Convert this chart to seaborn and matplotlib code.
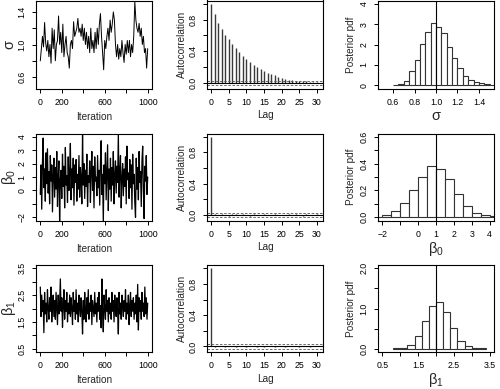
import numpy as np
import matplotlib.pyplot as plt
import seaborn as sns

# ---- data ----
# trace of sigma, every 10 iterations
sigma_trace = [0.80, 0.95, 1.10, 0.97, 1.27, 1.02, 0.92, 1.05, 0.85, 1.00,
               0.77, 1.20, 0.95, 1.18, 0.80, 1.00, 1.05, 1.35, 1.00, 1.15,
               0.90, 1.25, 0.85, 1.00, 1.10, 0.90, 0.85, 0.71, 1.00, 1.05,
               0.95, 1.28, 1.10, 1.15, 1.20, 1.32, 1.15, 1.20, 1.10, 1.25,
               1.05, 1.20, 1.00, 1.15, 0.95, 1.10, 0.90, 1.20, 0.95, 1.05,
               0.90, 1.15, 0.95, 1.20, 1.00, 1.25, 1.38, 1.10, 0.90, 0.69,
               1.05, 0.95, 1.10, 1.20, 1.05, 1.30, 1.15, 1.25, 1.40, 1.30,
               1.00, 0.85, 1.00, 0.82, 0.95, 0.85, 1.05, 0.90, 0.78, 1.00,
               0.88, 1.05, 0.90, 1.05, 0.85, 1.00, 0.90, 1.10, 1.53, 1.30,
               1.20, 1.15, 1.26, 1.10, 1.20, 1.00, 1.10, 0.90, 0.95, 0.71,
               0.95]

beta0_trace = [-0.3, 1.9, -1.4, 2.1, 3.9, 0.2, 1.6, -0.8, 2.8, 0.5,
               3.1, -0.2, 1.4, -1.0, 2.6, 0.7, 1.9, -1.6, 1.2, 2.4,
               -0.5, 1.7, 0.1, 2.9, -1.2, 1.0, 2.2, -2.4, 0.8, 1.5,
               -0.6, 2.7, 0.3, 1.8, -1.3, 3.2, 0.4, 1.1, -0.9, 2.5,
               0.0, 1.3, 3.5, -0.7, 1.6, 0.2, 2.4, -1.1, 1.9, 0.6,
               2.3, -0.8, 1.2, 0.1, 2.6, -0.5, 1.7, 0.9, -1.0, 4.3,
               0.4, 2.0, -0.6, 1.5, 0.3, 2.7, -1.2, 1.1, 0.6, 2.2,
               -0.9, 1.4, 2.9, 0.0, 1.8, -1.3, 2.5, 0.7, 1.0, -0.4,
               2.6, 0.2, 1.5, -1.1, 2.1, 3.7, -0.3, 1.2, -2.4, 1.9,
               0.5, 2.8, -0.7, 1.3, 3.4, -1.5, 1.6, 0.1, 2.4, -0.8,
               1.7, 0.4, 2.9, -1.0, 1.1, 2.2, -0.2, 1.8, 0.6, 4.3,
               -0.5, 1.4, 2.6, -1.3, 0.9, 2.0, -0.4, 1.6, 0.3, 2.5,
               -1.0, 3.3, 0.8, 1.3, -0.6, 2.3, 0.2, 1.9, -1.4, 2.7,
               0.5, 1.2, -0.9, -2.0, 2.4, 0.1, 1.7, -0.7, 2.9, 0.6,
               1.4, -1.2, 2.2, 3.3, 0.0, -2.1, 1.8, 0.7, 2.6, -0.3,
               1.0]

beta1_trace = [2.8, 1.7, 2.5, 1.9, 2.3, 1.1, 2.6, 1.8, 2.2, 1.5,
               2.7, 2.0, 1.6, 2.4, 1.9, 2.8, 1.5, 2.1, 2.5, 1.7,
               2.3, 1.6, 2.6, 2.0, 1.4, 2.5, 1.8, 2.2, 3.1, 1.9,
               2.4, 1.3, 2.1, 2.7, 1.6, 2.3, 1.9, 2.6, 1.5, 2.2,
               1.8, 2.5, 1.7, 2.4, 2.0, 1.4, 2.6, 1.9, 2.3, 1.6,
               2.7, 1.8, 2.2, 1.5, 2.5, 2.0, 1.7, 2.4, 1.9, 1.05,
               2.3, 1.6, 2.6, 2.0, 1.5, 2.4, 1.8, 2.7, 1.6, 2.2,
               1.9, 2.5, 1.4, 2.3, 2.0, 1.7, 2.6, 1.8, 2.2, 1.5,
               2.4, 1.9, 2.6, 1.6, 2.1, 1.28, 3.1, 1.8, 1.13, 2.5,
               2.0, 1.6, 2.7, 1.9, 2.3, 1.5, 2.4, 1.8, 2.2, 1.6,
               2.6, 1.9, 2.3, 1.5, 2.5, 2.0, 1.7, 2.4, 1.9, 1.05,
               2.6, 1.8, 2.2, 1.6, 2.5, 2.0, 1.7, 2.3, 1.9, 2.7,
               1.6, 2.2, 1.8, 2.5, 1.4, 2.1, 2.6, 1.7, 2.3, 1.9,
               2.4, 1.6, 2.2, 1.8, 2.5, 1.5, 2.9, 1.2, 2.4, 1.9,
               2.3, 1.6, 2.6, 1.9, 2.2, 1.7, 2.8, 1.8, 2.4, 1.6,
               2.2]

# autocorrelation, lags 0..30
lags = list(range(31))
sigma_acf = [1.0, 0.865, 0.76, 0.675, 0.61, 0.55, 0.49, 0.44, 0.39, 0.34,
             0.30, 0.26, 0.23, 0.20, 0.17, 0.15, 0.13, 0.11, 0.097, 0.08,
             0.067, 0.055, 0.042, 0.034, 0.03, 0.025, 0.02, 0.018, 0.015, 0.012,
             0.01]
beta0_acf = [1.0, 0.01, -0.005, 0.012, 0.004, -0.008, 0.006, 0.01, -0.004, 0.008,
             0.005, -0.01, 0.007, 0.003, -0.006, 0.009, 0.004, -0.003, 0.011, 0.002,
             -0.007, 0.005, 0.008, -0.005, 0.006, 0.003, -0.009, 0.01, 0.004, -0.002,
             0.007]
beta1_acf = [1.0, -0.006, 0.008, 0.003, -0.01, 0.007, 0.011, -0.004, 0.005, 0.009,
             -0.007, 0.004, 0.01, -0.002, 0.006, -0.008, 0.005, 0.012, -0.003, 0.007,
             0.004, -0.009, 0.006, 0.002, 0.008, -0.005, 0.01, 0.003, -0.006, 0.009,
             0.005]
acf_ci = 0.03

# posterior histograms (bin edges, density heights)
sigma_edges = [0.60, 0.65, 0.70, 0.75, 0.80, 0.85, 0.90, 0.95, 1.00, 1.05, 1.10,
               1.15, 1.20, 1.25, 1.30, 1.35, 1.40, 1.45, 1.50, 1.55]
sigma_dens = [0.03, 0.05, 0.21, 0.69, 1.23, 2.03, 2.59, 3.08, 2.84, 2.56,
              1.87, 1.36, 0.84, 0.44, 0.28, 0.16, 0.11, 0.07, 0.03]
beta0_edges = [-2.5, -2.0, -1.5, -1.0, -0.5, 0.0, 0.5, 1.0, 1.5, 2.0, 2.5,
               3.0, 3.5, 4.0, 4.5]
beta0_dens = [0.005, 0.017, 0.047, 0.107, 0.204, 0.298, 0.38, 0.357, 0.283,
              0.174, 0.084, 0.035, 0.015, 0.007]
beta1_edges = [0.8, 1.0, 1.2, 1.4, 1.6, 1.8, 2.0, 2.2, 2.4, 2.6, 2.8, 3.0, 3.2, 3.4]
beta1_dens = [0.01, 0.025, 0.1, 0.31, 0.68, 1.07, 1.17, 0.91, 0.52, 0.2,
              0.066, 0.025, 0.008]

true_values = [1.0, 1.0, 2.0]
param_labels = ['σ', 'β$_0$', 'β$_1$']

# tick positions and their labels ('' = tick without label)
par_ticks = [([0.6, 0.8, 1.0, 1.2, 1.4], ['0.6', '', '1.0', '', '1.4']),
             ([-2, -1, 0, 1, 2, 3, 4], ['−2', '', '0', '1', '2', '3', '4']),
             ([0.5, 1.0, 1.5, 2.0, 2.5, 3.0, 3.5], ['0.5', '', '1.5', '', '2.5', '', '3.5'])]
hist_xlabels = [['0.6', '0.8', '1.0', '1.2', '1.4'],
                ['−2', '', '0', '1', '2', '3', '4'],
                ['0.5', '', '1.5', '', '2.5', '', '3.5']]
hist_yticks = [([0, 1, 2, 3, 4], ['0', '1', '2', '3', '4']),
               ([0, 0.1, 0.2, 0.3, 0.4, 0.5, 0.6], ['0.0', '', '0.2', '', '0.4', '', '0.6']),
               ([0, 0.5, 1.0, 1.5, 2.0], ['0.0', '', '1.0', '', '2.0'])]
lims = [(0.46, 1.54), (-2.24, 4.24), (0.38, 3.62)]
hist_ylims = [(-0.16, 4.16), (-0.024, 0.624), (-0.08, 2.08)]
trace_lw = [0.7, 0.9, 0.9]

# ---- style ----
sns.set_style('ticks')
plt.rcParams['font.family'] = ['Liberation Sans', 'DejaVu Sans']
plt.rcParams['mathtext.fontset'] = 'custom'
plt.rcParams['mathtext.rm'] = 'Liberation Sans'
plt.rcParams['mathtext.it'] = 'Liberation Sans'


def style(ax):
    for s in ax.spines.values():
        s.set_visible(True)
        s.set_linewidth(0.8)
        s.set_color('black')
    ax.tick_params(direction='out', length=3.2, width=0.7, labelsize=6.3,
                   pad=3.5, colors='black')
    ax.set_facecolor('white')


fig = plt.figure(figsize=(5, 3.89), dpi=100)
W, H = 500, 389
col_left = [36, 207, 378]
box_w = 116
rows = [(0.5, 88.5), (133.5, 220.5), (265, 352)]

traces = [sigma_trace, beta0_trace, beta1_trace]
acfs = [sigma_acf, beta0_acf, beta1_acf]
hists = [(sigma_edges, sigma_dens), (beta0_edges, beta0_dens), (beta1_edges, beta1_dens)]

for r in range(3):
    top, bot = rows[r]
    h = bot - top
    axes = [fig.add_axes([col_left[c] / W, 1 - bot / H, box_w / W, h / H]) for c in range(3)]
    ax_tr, ax_acf, ax_h = axes
    for ax in axes:
        style(ax)

    # trace
    vals = traces[r]
    iters = np.linspace(1, 1000, len(vals))
    sns.lineplot(x=iters, y=vals, ax=ax_tr, color='black', linewidth=trace_lw[r])
    ax_tr.set_xlim(-39, 1040)
    ax_tr.set_ylim(*lims[r])
    ax_tr.set_xticks([0, 200, 400, 600, 800, 1000])
    ax_tr.set_xticklabels(['0', '200', '', '600', '', '1000'])
    ax_tr.set_yticks(par_ticks[r][0])
    ax_tr.set_yticklabels(par_ticks[r][1], rotation=90, va='center')
    ax_tr.set_xlabel('Iteration', fontsize=7.2, va='center')
    ax_tr.set_ylabel(param_labels[r], fontsize=10.5, va='center')
    ax_tr.xaxis.set_label_coords(0.5, -28 / h)
    ax_tr.yaxis.set_label_coords(-27 / box_w, 0.5)

    # autocorrelation
    ax_acf.vlines(lags, 0, acfs[r], color='#3a3a3a', linewidth=1.0)
    ax_acf.axhline(0, color='black', linewidth=0.8)
    for c in (acf_ci, -acf_ci):
        ax_acf.axhline(c, color='#555555', linewidth=0.6, linestyle=(0, (3, 2)))
    ax_acf.set_xlim(-1.2, 31.7)
    ax_acf.set_ylim(-0.071, 1.041)
    ax_acf.set_xticks([0, 5, 10, 15, 20, 25, 30])
    ax_acf.set_xticklabels(['0', '5', '10', '15', '20', '25', '30'])
    ax_acf.set_yticks([0, 0.2, 0.4, 0.6, 0.8, 1.0])
    ax_acf.set_yticklabels(['0.0', '', '0.4', '', '0.8', ''], rotation=90, va='center')
    ax_acf.set_xlabel('Lag', fontsize=7.2, va='center')
    ax_acf.set_ylabel('Autocorrelation', fontsize=7.2, va='center')
    ax_acf.xaxis.set_label_coords(0.5, -27 / h)
    ax_acf.yaxis.set_label_coords(-25.5 / box_w, 0.5)

    # posterior histogram
    edges, dens = hists[r]
    centers = [(a + b) / 2 for a, b in zip(edges[:-1], edges[1:])]
    sns.histplot(x=centers, weights=dens, bins=edges, stat='count', ax=ax_h,
                 color='white', edgecolor='#333333', linewidth=0.8, alpha=1)
    ax_h.axvline(true_values[r], color='black', linewidth=0.8)
    ax_h.set_xlim(*lims[r])
    ax_h.set_ylim(*hist_ylims[r])
    ax_h.set_xticks(par_ticks[r][0])
    ax_h.set_xticklabels(hist_xlabels[r])
    ax_h.set_yticks(hist_yticks[r][0])
    ax_h.set_yticklabels(hist_yticks[r][1], rotation=90, va='center')
    ax_h.set_xlabel(param_labels[r], fontsize=10.5, va='center')
    ax_h.set_ylabel('Posterior pdf', fontsize=7.2, va='center')
    ax_h.xaxis.set_label_coords(0.5, -28 / h)
    ax_h.yaxis.set_label_coords(-27.5 / box_w, 0.5)

fig.savefig('out.png', dpi=100, facecolor='white')
